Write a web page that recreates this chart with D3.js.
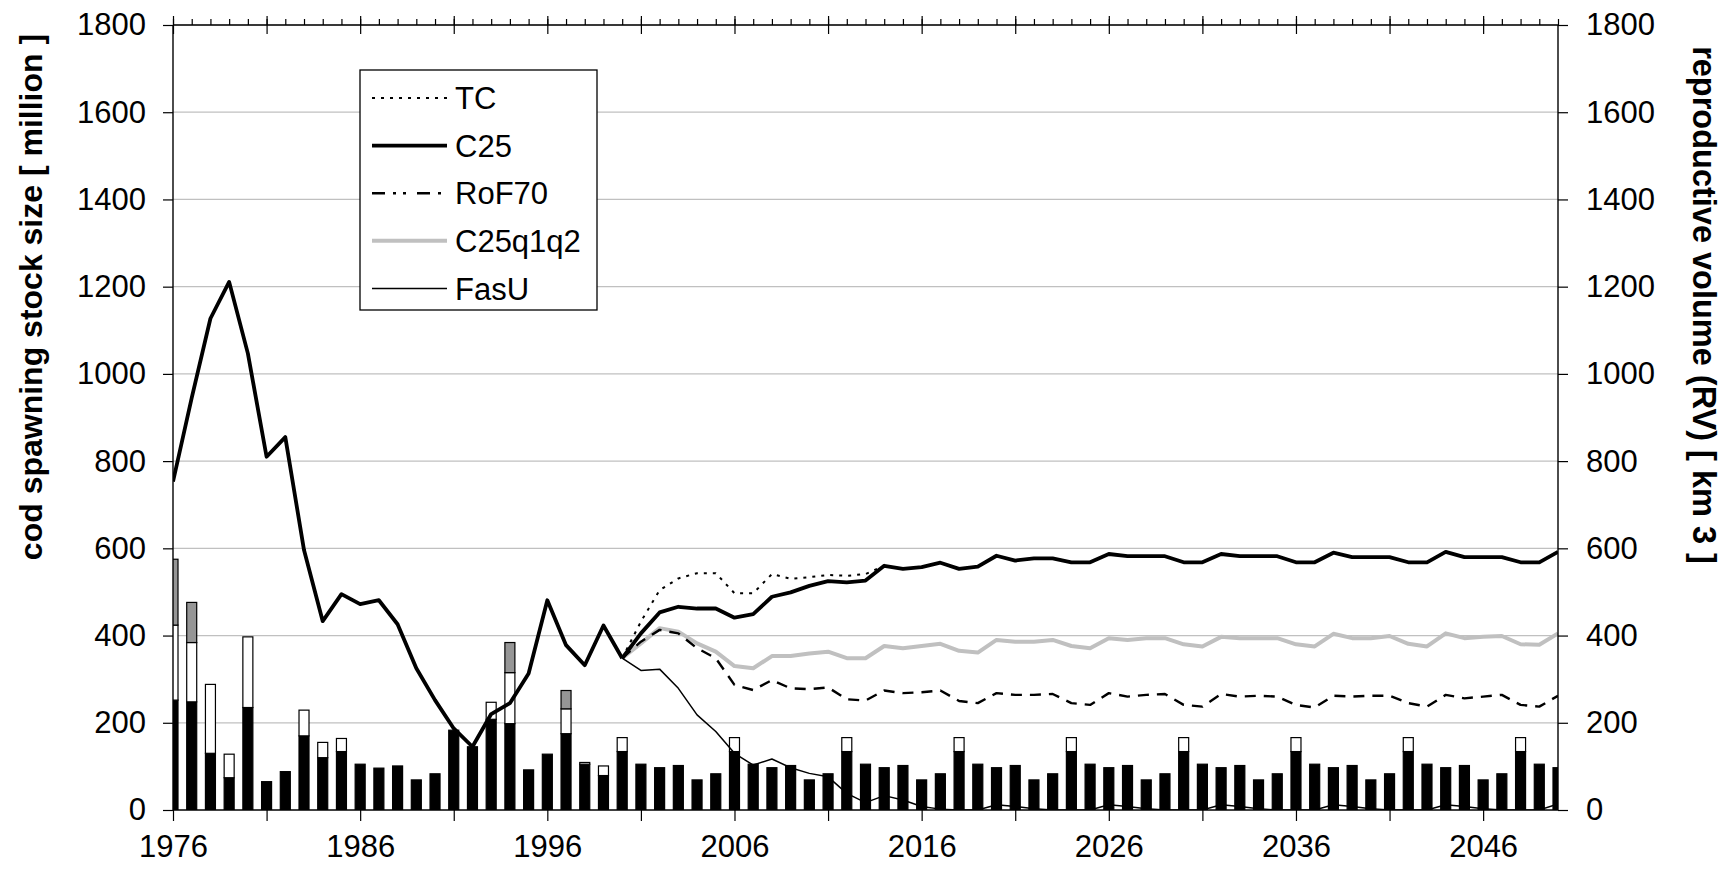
<!DOCTYPE html>
<html>
<head>
<meta charset="utf-8">
<script src="https://cdn.jsdelivr.net/npm/d3@7"></script>
<style>
  html, body { margin: 0; padding: 0; background: #fff; }
  svg { display: block; font-family: "Liberation Sans", Arial, sans-serif; }
</style>
</head>
<body>
<svg id="chart" width="1724" height="873"></svg>
<script>
// ---------------- DATA ----------------
const years = [1976,1977,1978,1979,1980,1981,1982,1983,1984,1985,1986,1987,1988,1989,1990,
  1991,1992,1993,1994,1995,1996,1997,1998,1999,2000,2001,2002,2003,2004,2005,2006,2007,2008,
  2009,2010,2011,2012,2013,2014,2015,2016,2017,2018,2019,2020,2021,2022,2023,2024,2025,2026,
  2027,2028,2029,2030,2031,2032,2033,2034,2035,2036,2037,2038,2039,2040,2041,2042,2043,2044,
  2045,2046,2047,2048,2049,2050];

// reproductive volume (stacked bars), 1976-2050
const rvBlack = [252,248,130,74,235,65,88,170,120,134,105,96,101,69,83,183,145,208,198,92,128,175,105,79,
  134,105,97,102,69,83, 134,105,97,102,69,83, 134,105,97,102,69,83, 134,105,97,102,69,83,
  134,105,97,102,69,83, 134,105,97,102,69,83, 134,105,97,102,69,83, 134,105,97,102,69,83, 134,105,97];
const rvWhite = [172,136,158,54,162,0,0,59,35,30,0,0,0,0,0,0,0,39,117,0,0,57,4,22,
  32,0,0,0,0,0, 32,0,0,0,0,0, 32,0,0,0,0,0, 32,0,0,0,0,0,
  32,0,0,0,0,0, 32,0,0,0,0,0, 32,0,0,0,0,0, 32,0,0,0,0,0, 32,0,0];
const rvGray = [151,92,0,0,0,0,0,0,0,0,0,0,0,0,0,0,0,0,69,0,0,42,0,0,
  0,0,0,0,0,0, 0,0,0,0,0,0, 0,0,0,0,0,0, 0,0,0,0,0,0,
  0,0,0,0,0,0, 0,0,0,0,0,0, 0,0,0,0,0,0, 0,0,0,0,0,0, 0,0,0];

// historic spawning stock size 1976-2000
const histYears = years.slice(0, 25);
const histSSB = [753,945,1127,1211,1047,810,855,596,433,495,472,481,426,325,252,187,145,220,245,313,481,378,332,423,348];

// scenario projections 2000-2050
const projYears = years.slice(24);
const TC = [348,432,504,531,543,543,497,497,541,530,534,539,537,541,560,553,557,567,553,558,
  583,572,577,577,568,568,587,582,582,582,568,568,587,582,582,582,568,568,590,580,580,580,
  568,568,592,580,580,580,568,568,592];
const C25 = [348,405,453,466,462,462,441,449,489,499,514,525,522,526,560,553,557,567,553,558,
  583,572,577,577,568,568,587,582,582,582,568,568,587,582,582,582,568,568,590,580,580,580,
  568,568,592,580,580,580,568,568,592];
const RoF70 = [348,386,413,405,371,348,287,275,298,279,277,281,254,251,274,268,270,274,250,245,
  268,264,264,266,245,241,268,260,264,266,241,237,266,260,262,260,241,235,262,260,262,262,
  245,237,264,256,260,264,241,237,262];
const C25q1q2 = [348,382,417,409,382,363,330,325,353,353,359,363,348,348,376,371,376,381,365,361,
  390,386,386,390,376,371,394,390,394,394,380,375,397,394,394,394,380,375,404,394,394,399,
  381,375,405,394,397,399,380,379,405];
const FasU = [348,320,323,279,218,180,130,103,117,97,84,76,38,17,33,23,8,2,0,0,
  12,8,3,0,0,0,12,8,3,0,0,0,12,8,3,0,0,0,12,8,3,0,0,0,12,8,3,0,0,0,14];

const yTicks = [0,200,400,600,800,1000,1200,1400,1600,1800];
const xLabelYears = [1976,1986,1996,2006,2016,2026,2036,2046];
const legendNames = ["TC","C25","RoF70","C25q1q2","FasU"];

// ---------------- LAYOUT ----------------
const svg = d3.select("#chart");
const L = 173, R = 1558, T = 25, B = 810;
const FONT = 31;
const x = d3.scaleLinear().domain([1976, 2050]).range([L, R]);
const y = d3.scaleLinear().domain([0, 1800]).range([B, T]);

svg.append("defs").append("clipPath").attr("id", "plotclip")
  .append("rect").attr("x", L).attr("y", T - 5).attr("width", R - L).attr("height", B - T + 5);

// gridlines
svg.append("g").selectAll("line").data(yTicks.filter(d => d > 0)).join("line")
  .attr("x1", L).attr("x2", R).attr("y1", d => y(d)).attr("y2", d => y(d))
  .attr("stroke", "#c0c0c0").attr("stroke-width", 1.2);

// bars
const table = years.map((yr, i) => ({year: yr, black: rvBlack[i], white: rvWhite[i], gray: rvGray[i]}));
const stack = d3.stack().keys(["black", "white", "gray"])(table);
const fills = {black: "#000", white: "#fff", gray: "#969696"};
const barW = 10;
const gBars = svg.append("g").attr("clip-path", "url(#plotclip)");
stack.forEach(layer => {
  gBars.append("g").selectAll("rect").data(layer.filter(d => d[1] - d[0] > 0)).join("rect")
    .attr("x", d => x(d.data.year) - barW / 2)
    .attr("width", barW)
    .attr("y", d => y(d[1]))
    .attr("height", d => y(d[0]) - y(d[1]))
    .attr("fill", fills[layer.key])
    .attr("stroke", "#000").attr("stroke-width", 1.2);
});

// lines
const line = d3.line().x(d => x(d[0])).y(d => y(d[1]));
const gLines = svg.append("g").attr("clip-path", "url(#plotclip)").attr("fill", "none")
  .attr("stroke-linejoin", "round");
const styles = {
  TC:      {stroke: "#000", width: 2,   dash: "3,6",  legendDash: "3,6"},
  C25:     {stroke: "#000", width: 3.8, dash: null,   legendDash: null},
  RoF70:   {stroke: "#000", width: 2.4, dash: "11,8", legendDash: "13,8,3,7,3,11"},
  C25q1q2: {stroke: "#c0c0c0", width: 4, dash: null,  legendDash: null},
  FasU:    {stroke: "#000", width: 1.5, dash: null,   legendDash: null}
};
const seriesData = {TC, C25, RoF70, C25q1q2, FasU};
function drawSeries(name) {
  const s = styles[name];
  gLines.append("path")
    .datum(projYears.map((yr, i) => [yr, seriesData[name][i]]))
    .attr("d", line)
    .attr("stroke", s.stroke).attr("stroke-width", s.width)
    .attr("stroke-dasharray", s.dash);
}
drawSeries("C25q1q2");
drawSeries("FasU");
drawSeries("RoF70");
drawSeries("TC");
drawSeries("C25");
// historic part
gLines.append("path")
  .datum(histYears.map((yr, i) => [yr, histSSB[i]]))
  .attr("d", line).attr("stroke", "#000").attr("stroke-width", 3.8);

// axes
function styleAxis(g) {
  g.selectAll("text").attr("font-size", FONT).attr("fill", "#000")
    .attr("font-family", "'Liberation Sans', Arial, sans-serif");
  g.selectAll("line").attr("stroke", "#000").attr("stroke-width", 1.2);
  g.select(".domain").remove();
}
svg.append("g").attr("transform", `translate(${L},0)`)
  .call(d3.axisLeft(y).tickValues(yTicks).tickSize(10).tickPadding(17).tickFormat(d3.format("d")))
  .call(styleAxis);
svg.append("g").attr("transform", `translate(${R},0)`)
  .call(d3.axisRight(y).tickValues(yTicks).tickSize(10).tickPadding(18).tickFormat(d3.format("d")))
  .call(styleAxis);

const majorYears = years.filter(d => (d - 1976) % 5 === 0);
svg.append("g").attr("transform", `translate(0,${B})`)
  .call(d3.axisBottom(x).tickValues(majorYears).tickSize(11).tickPadding(14)
    .tickFormat(d => xLabelYears.includes(d) ? String(d) : ""))
  .call(styleAxis);

// top (secondary) axis: minor ticks each year outward, major ticks crossing
svg.append("g").attr("transform", `translate(0,${T})`)
  .call(d3.axisTop(x).tickValues(years).tickSize(6).tickFormat(""))
  .call(styleAxis);
svg.append("g").attr("transform", `translate(0,${T})`)
  .call(d3.axisTop(x).tickValues(majorYears).tickSize(9).tickFormat(""))
  .call(styleAxis);
svg.append("g").attr("transform", `translate(0,${T})`)
  .call(d3.axisBottom(x).tickValues(majorYears).tickSize(9).tickFormat(""))
  .call(styleAxis);

// frame lines
svg.append("g").attr("stroke", "#000").attr("stroke-width", 1.4).selectAll("line")
  .data([[L, T, L, B], [R, T, R, B], [L, T, R, T], [L, B, R, B]]).join("line")
  .attr("x1", d => d[0]).attr("y1", d => d[1]).attr("x2", d => d[2]).attr("y2", d => d[3]);

// axis titles
svg.append("text").attr("transform", "translate(31,297) rotate(-90)")
  .attr("text-anchor", "middle").attr("dominant-baseline", "central")
  .attr("font-size", 32).attr("font-weight", "bold")
  .text("cod spawning stock size [ million ]");
svg.append("text").attr("transform", "translate(1704,305) rotate(90)")
  .attr("text-anchor", "middle").attr("dominant-baseline", "central")
  .attr("font-size", 32.5).attr("font-weight", "bold")
  .text("reproductive volume (RV) [ km 3 ]");

// legend
const lg = svg.append("g");
lg.append("rect").attr("x", 360).attr("y", 70).attr("width", 237).attr("height", 240)
  .attr("fill", "#fff").attr("stroke", "#000").attr("stroke-width", 1.3);
legendNames.forEach((name, i) => {
  const ly = 98 + i * 47.6;
  const s = styles[name];
  lg.append("line").attr("x1", 372).attr("x2", 447).attr("y1", ly).attr("y2", ly)
    .attr("stroke", s.stroke).attr("stroke-width", s.width).attr("stroke-dasharray", s.legendDash);
  lg.append("text").attr("x", 455).attr("y", ly + 0.36 * FONT).attr("font-size", FONT)
    .text(name);
});
</script>
</body>
</html>
